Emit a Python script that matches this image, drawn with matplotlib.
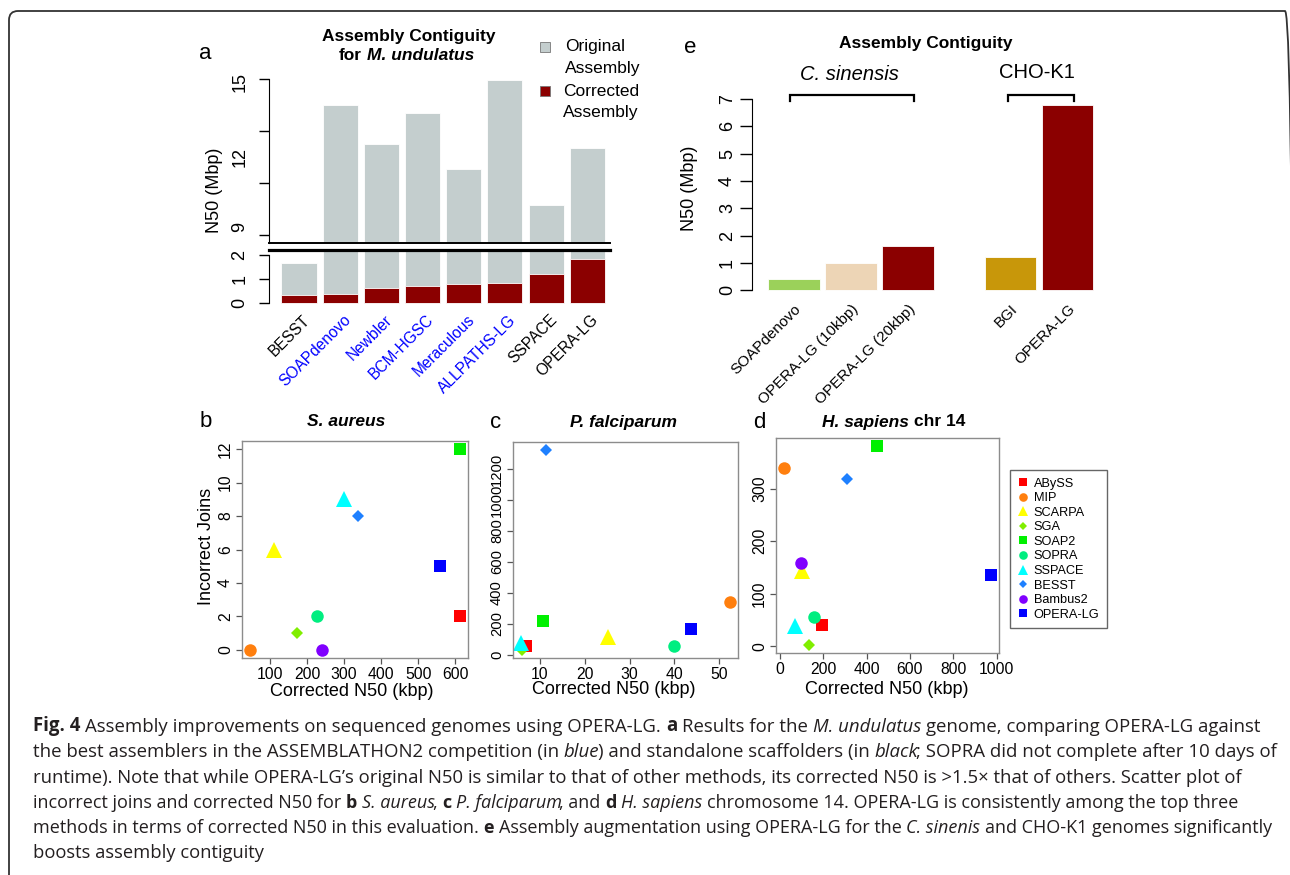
import numpy as np
import matplotlib
matplotlib.use("Agg")
import matplotlib.pyplot as plt
from matplotlib.patches import FancyBboxPatch, Rectangle
from matplotlib.lines import Line2D
from matplotlib.transforms import IdentityTransform, ScaledTranslation

# ---------------- data ----------------
# panel a
names_a = ["BESST", "SOAPdenovo", "Newbler", "BCM-HGSC", "Meraculous",
           "ALLPATHS-LG", "SSPACE", "OPERA-LG"]
orig_a = [1.65, 14.0, 12.5, 13.7, 11.55, 14.95, 10.15, 12.35]
corr_a = [0.32, 0.36, 0.62, 0.72, 0.78, 0.83, 1.2, 1.82]
labcol_a = ["black", "blue", "blue", "blue", "blue", "blue", "black", "black"]

# panel e
names_e = ["SOAPdenovo", "OPERA-LG (10kbp)", "OPERA-LG (20kbp)", "BGI", "OPERA-LG"]
vals_e = [0.4, 1.0, 1.6, 1.2, 6.8]
cols_e = ["#9BD15A", "#EDD5B6", "#8B0000", "#C8970A", "#8B0000"]
pos_e = [0, 1, 2, 3.8, 4.8]

# panels b, c, d
methods = ["ABySS", "MIP", "SCARPA", "SGA", "SOAP2", "SOPRA", "SSPACE",
           "BESST", "Bambus2", "OPERA-LG"]
m_colors = ["#FF0000", "#FF7F0E", "#FFFF00", "#80EE00", "#00F000", "#00EE80",
            "#00FFFF", "#1E80FF", "#8000FF", "#0000FF"]
m_marker = ["s", "o", "^", "D", "s", "o", "^", "D", "o", "s"]

b_x = [612, 47, 112, 172, 612, 228, 299, 337, 241, 559]
b_y = [2, 0, 6, 1, 12, 2, 9, 8, 0, 5]
c_x = [6.9, 52.3, 25.3, 6.1, 10.7, 40.0, 5.9, 11.3, np.nan, 43.6]
c_y = [58, 343, 114, 32, 220, 58, 75, 1322, np.nan, 165]
d_x = [194, 20, 104, 134, 446, 156, 69, 308, 99, 973]
d_y = [41, 340, 143, 2, 382, 55, 38, 318, 159, 135]

# ---------------- styles ----------------
W, H, DPI = 1290, 875, 100
GREY = "#C4CECE"
DRED = "#8B0000"
SANS = ["Liberation Sans", "DejaVu Sans"]
CAPF = ["Open Sans", "DejaVu Sans"]
plt.rcParams["font.family"] = SANS

ms_map = {"s": 9.0, "o": 9.0, "^": 11.0, "D": 5.8}
ms_leg = {"s": 6.0, "o": 6.2, "^": 7.8, "D": 4.0}

fig = plt.figure(figsize=(W / DPI, H / DPI), dpi=DPI)


def add_ax(l, t, r, b):
    return fig.add_axes([l / W, 1 - b / H, (r - l) / W, (b - t) / H])


def ftext(x, y, s, **kw):
    return fig.text(x / W, 1 - y / H, s, **kw)


# ---------------- outer rounded border ----------------
border = FancyBboxPatch((9, -30), 1285, 864 + 30,
                        boxstyle="round,pad=0,rounding_size=9",
                        transform=IdentityTransform(), fill=False,
                        ec="#333333", lw=1.3)
fig.add_artist(border)

# ---------------- panel a ----------------
xa = np.arange(len(names_a))
axU = add_ax(269, 70, 610, 243)
axL = add_ax(269, 250, 610, 306)
for ax in (axU, axL):
    ax.bar(xa, orig_a, width=0.85, color=GREY, edgecolor="white", linewidth=0.6)
    ax.set_xlim(-0.728, 7.549)
    for s in ("top", "right", "bottom", "left"):
        ax.spines[s].set_visible(False)
axL.bar(xa, corr_a, width=0.85, color=DRED, edgecolor="white", linewidth=0.6)

axU.set_ylim(8.69, 15.35)
axU.spines["left"].set_visible(True)
axU.spines["left"].set_bounds(8.69, 15)
axU.spines["bottom"].set_visible(True)
axU.spines["bottom"].set_linewidth(1.4)
axU.set_xticks([])
axU.set_yticks([9, 11, 13, 15], labels=["", "", "", ""])
axU.set_yticks([9.3, 12, 14.88], labels=["9", "12", "15"], minor=True,
               rotation=90, va="center", fontsize=13)
axU.tick_params(axis="y", which="major", length=7.5, width=1)
axU.tick_params(axis="y", which="minor", length=0, pad=15)

axL.set_ylim(-0.125, 2.208)
axL.spines["left"].set_visible(True)
axL.spines["left"].set_bounds(0, 2)
axL.spines["top"].set_visible(True)
axL.spines["top"].set_linewidth(2.3)
axL.set_yticks([0, 1, 2], labels=["0", "1", "2"], rotation=90, va="center",
               fontsize=13)
axL.tick_params(axis="y", length=7.5, width=1, pad=7.5)
axL.set_xticks(xa, labels=names_a, rotation=45, ha="right", va="top",
               rotation_mode="anchor", fontsize=11.2)
axL.tick_params(axis="x", length=0, pad=4.5)
off = ScaledTranslation(0.03, 0, fig.dpi_scale_trans)
for lab, c in zip(axL.get_xticklabels(), labcol_a):
    lab.set_color(c)
    lab.set_transform(lab.get_transform() + off)

ftext(199, 59, "a", fontsize=16, va="baseline", ha="left")
ftext(409, 40.5, "Assembly Contiguity", fontsize=12.5, fontweight="bold",
      ha="center", va="baseline")
t1 = ftext(339, 60, "for", fontsize=12.5, fontweight="bold", ha="left",
           va="baseline")
fig.add_artist(matplotlib.text.Annotation(
    "M. undulatus", xy=(1, 0), xycoords=t1, xytext=(3.6, 0),
    textcoords="offset points", fontsize=12.5, fontweight="bold",
    fontstyle="italic", ha="left", va="bottom"))
ftext(214, 190, "N50 (Mbp)", fontsize=13, rotation=90, ha="center", va="center")

# legend of panel a
for (yc, col) in ((47, GREY), (91, DRED)):
    fig.add_artist(Rectangle((540 / W, 1 - (yc + 5) / H), 10 / W, 10 / H,
                             transform=fig.transFigure, fc=col, ec="#777777",
                             lw=0.6))
ftext(565, 47, "Original", fontsize=12.5, va="center", ha="left")
ftext(565, 68, "Assembly", fontsize=12.5, va="center", ha="left")
ftext(563, 91, "Corrected", fontsize=12.5, va="center", ha="left")
ftext(563, 112, "Assembly", fontsize=12.5, va="center", ha="left")

# ---------------- panel e ----------------
axE = add_ax(752, 95, 1100, 295)
axE.bar(pos_e, vals_e, width=0.91, color=cols_e, edgecolor="white", linewidth=0.6)
axE.set_xlim(-0.737, 5.37)
axE.set_ylim(-0.18, 7.15)
for s in ("top", "right", "bottom"):
    axE.spines[s].set_visible(False)
axE.spines["left"].set_bounds(0, 7)
axE.set_yticks(range(8), labels=[str(i) for i in range(8)], rotation=90,
               va="center", fontsize=13)
axE.tick_params(axis="y", length=8.5, width=1, pad=3)
axE.set_xticks(pos_e, labels=names_e, rotation=45, ha="right", va="top",
               rotation_mode="anchor", fontsize=11)
axE.tick_params(axis="x", length=0, pad=5)

# brackets
br_kw = dict(color="black", lw=1.6, clip_on=False, solid_joinstyle="miter")
axE.plot([-0.07, -0.07, 2.1, 2.1], [6.92, 7.14, 7.14, 6.92], **br_kw)
axE.plot([3.75, 3.75, 4.91, 4.91], [6.92, 7.14, 7.14, 6.92], **br_kw)

ftext(684, 53, "e", fontsize=16, va="baseline", ha="left")
ftext(926, 48, "Assembly Contiguity", fontsize=12.5, fontweight="bold",
      ha="center", va="baseline")
ftext(849, 80, "C. sinensis", fontsize=14.5, fontstyle="italic", ha="center",
      va="baseline")
ftext(1037, 78, "CHO-K1", fontsize=14.5, ha="center", va="baseline")
ftext(690, 188, "N50 (Mbp)", fontsize=13, rotation=90, ha="center", va="center")


# ---------------- scatter panels ----------------
def scatter_panel(rect, xs, ys, xt, yt, yfs=11.3):
    ax = add_ax(*rect)
    for i in range(len(methods)):
        ax.plot([xs[i]], [ys[i]], ls="none", marker=m_marker[i],
                ms=ms_map[m_marker[i]], color=m_colors[i], mew=0)
    ax.margins(0.04)
    for s in ax.spines.values():
        s.set_color("#8C8C8C")
        s.set_linewidth(1.0)
    ax.set_xticks(xt, labels=[str(v) for v in xt], fontsize=11.3)
    ax.set_yticks(yt, labels=[str(v) for v in yt], rotation=90, va="center",
                  fontsize=yfs)
    ax.tick_params(length=4, width=0.9, color="#555555", pad=2.5)
    return ax


axB = scatter_panel((242, 441, 468, 658), b_x, b_y,
                    [100, 200, 300, 400, 500, 600], [0, 2, 4, 6, 8, 10, 12])
axC = scatter_panel((513, 442, 738, 658), c_x, c_y,
                    [10, 20, 30, 40, 50], [0, 200, 400, 600, 800, 1000, 1200],
                    yfs=10.6)
axD = scatter_panel((776, 438, 999, 653), d_x, d_y,
                    [0, 200, 400, 600, 800, 1000], [0, 100, 200, 300])

ftext(200, 427, "b", fontsize=16, va="baseline", ha="left")
ftext(490, 428, "c", fontsize=16, va="baseline", ha="left")
ftext(753, 428, "d", fontsize=16, va="baseline", ha="left")
ftext(346, 426.5, "S. aureus", fontsize=12.5, fontweight="bold",
      fontstyle="italic", ha="center", va="baseline")
ftext(623, 426.5, "P. falciparum", fontsize=12.5, fontweight="bold",
      fontstyle="italic", ha="center", va="baseline")
td = ftext(822, 426.5, "H. sapiens", fontsize=12.5, fontweight="bold",
           fontstyle="italic", ha="left", va="baseline")
fig.add_artist(matplotlib.text.Annotation(
    "chr 14", xy=(1, 0), xycoords=td, xytext=(3.6, 0),
    textcoords="offset points", fontsize=12.5, fontweight="bold",
    ha="left", va="bottom"))

ftext(206, 546, "Incorrect Joins", fontsize=13, rotation=90, ha="center",
      va="center")
ftext(352, 691, "Corrected N50 (kbp)", fontsize=13, ha="center", va="center")
ftext(614, 690, "Corrected N50 (kbp)", fontsize=13, ha="center", va="center")
ftext(887, 689, "Corrected N50 (kbp)", fontsize=13, ha="center", va="center")

handles = [Line2D([], [], ls="none", marker=m_marker[i], ms=ms_leg[m_marker[i]],
                  color=m_colors[i], mew=0) for i in range(len(methods))]
leg = fig.legend(handles, methods, loc="upper left",
                 bbox_to_anchor=(1010 / W, 1 - 470 / H), borderaxespad=0,
                 fontsize=9.2, frameon=True, fancybox=False, edgecolor="#666666",
                 framealpha=1, labelspacing=0.2, handlelength=0.8,
                 handletextpad=0.45, borderpad=0.6)
leg.get_frame().set_linewidth(1.0)

# ---------------- caption ----------------
N, B, I = "n", "b", "i"
cap_lines = [
    [("Fig. 4", B, 0), ("Assembly improvements on sequenced genomes using OPERA-LG.", N, 1),
     ("a", B, 1), ("Results for the", N, 1), ("M. undulatus", I, 1),
     ("genome, comparing OPERA-LG against", N, 1)],
    [("the best assemblers in the ASSEMBLATHON2 competition (in", N, 0), ("blue", I, 1),
     (") and standalone scaffolders (in", N, -0.4), ("black", I, 1),
     ("; SOPRA did not complete after 10 days of", N, -0.4)],
    [("runtime). Note that while OPERA-LG\u2019s original N50 is similar to that of other "
      "methods, its corrected N50 is >1.5\u00d7 that of others. Scatter plot of", N, 0)],
    [("incorrect joins and corrected N50 for", N, 0), ("b", B, 1), ("S. aureus", I, 1),
     (",", N, -0.5), ("c", B, 1), ("P. falciparum", I, 1), (", and", N, -0.5), ("d", B, 1),
     ("H. sapiens", I, 1),
     ("chromosome 14. OPERA-LG is consistently among the top three", N, 1)],
    [("methods in terms of corrected N50 in this evaluation.", N, 0), ("e", B, 1),
     ("Assembly augmentation using OPERA-LG for the", N, 1), ("C. sinenis", I, 1),
     ("and CHO-K1 genomes significantly", N, 1)],
    [("boosts assembly contiguity", N, 0)],
]
cap_base = [731, 757, 783, 808, 833, 858]
cap_end = [1257, 1267, 1241, 1236, 1266, None]
CAP_X = 33
CAP_COL = "#231F20"


def draw_line(li, fs):
    arts = []
    prev = None
    for txt, sty, gap in cap_lines[li]:
        kw = dict(fontsize=fs, family=CAPF, color=CAP_COL,
                  fontweight="bold" if sty == B else "normal",
                  fontstyle="italic" if sty == I else "normal")
        if prev is None:
            t = fig.text(CAP_X / W, 1 - cap_base[li] / H, txt, ha="left",
                         va="baseline", **kw)
        else:
            t = matplotlib.text.Annotation(
                txt, xy=(1, 0), xycoords=prev,
                xytext=(gap * 0.26 * fs, 0), textcoords="offset points",
                ha="left", va="bottom", **kw)
            fig.add_artist(t)
        arts.append(t)
        prev = t
    return arts


fs0 = 12.0
first_pass = [draw_line(li, fs0) for li in range(len(cap_lines))]
fig.canvas.draw()
r = fig.canvas.get_renderer()
sizes = []
for li, arts in enumerate(first_pass):
    if cap_end[li] is not None:
        w = arts[-1].get_window_extent(r).x1 - arts[0].get_window_extent(r).x0
        sizes.append(fs0 * (cap_end[li] - CAP_X) / w)
    else:
        sizes.append(None)
    for a in arts:
        a.remove()
mean_fs = float(np.mean([s for s in sizes if s is not None]))
for li in range(len(cap_lines)):
    draw_line(li, sizes[li] if sizes[li] is not None else mean_fs)

fig.savefig("out.png", dpi=DPI)
